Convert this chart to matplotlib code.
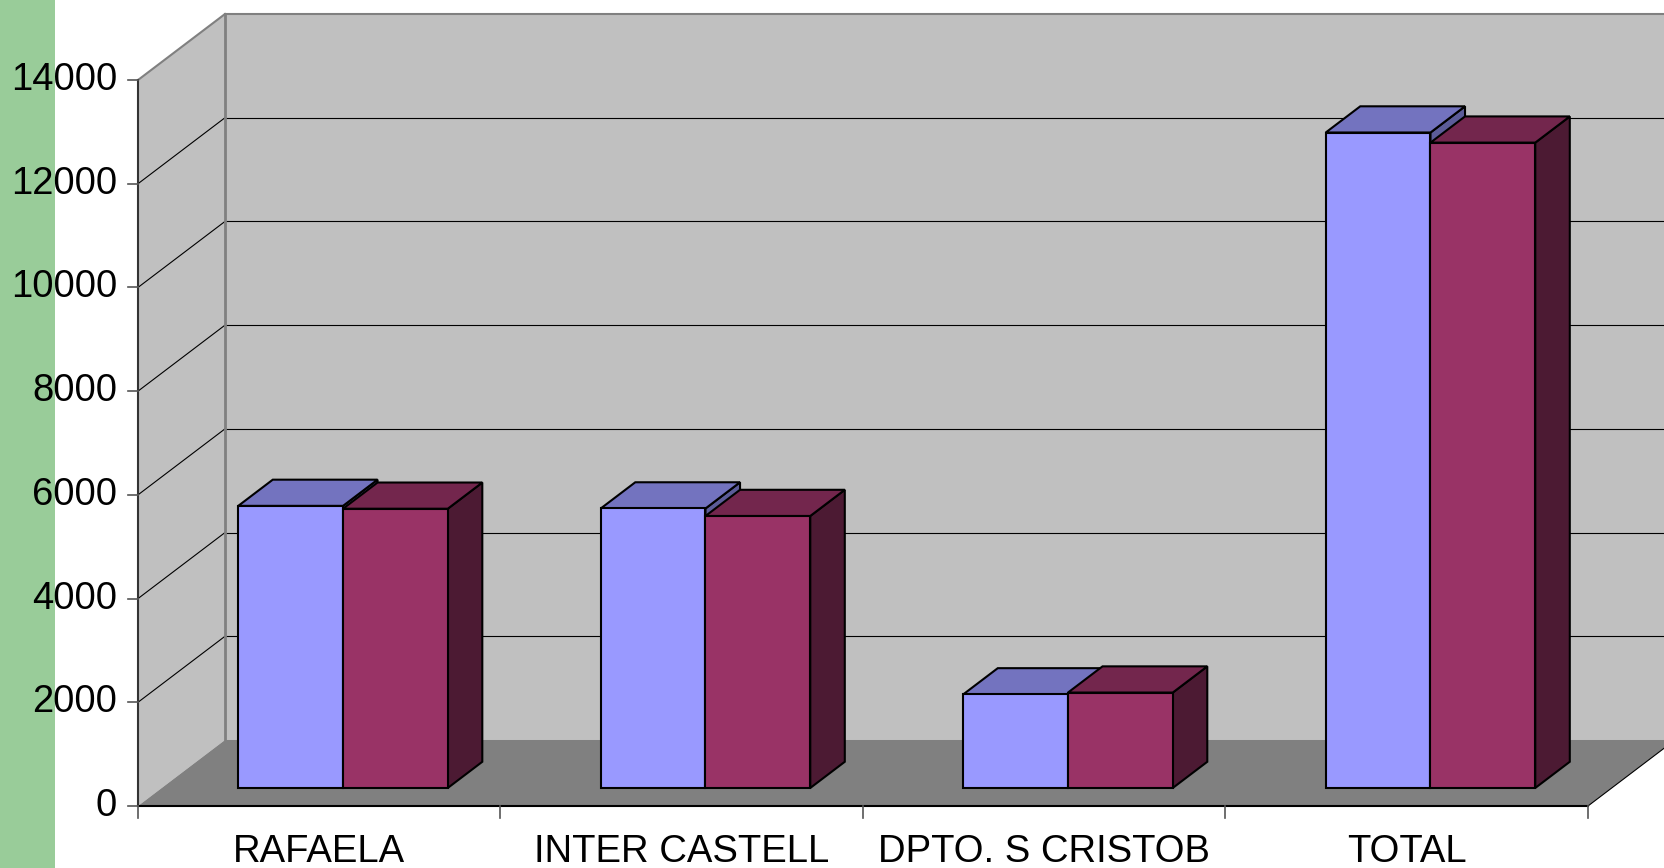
"""
3D-style clustered column chart (Excel look) rebuilt with plain matplotlib patches.
"""
import matplotlib
matplotlib.use("Agg")
import matplotlib.pyplot as plt
from matplotlib.patches import Polygon
import numpy as np

# data
categories = ['RAFAELA', 'INTER CASTELL', 'DPTO. S CRISTOB', 'TOTAL']
serie_a = [5440, 5390, 1805, 12640]
serie_b = [5385, 5245, 1840, 12445]
y_ticks = [0, 2000, 4000, 6000, 8000, 10000, 12000, 14000]

# colours
front_cols = ['#9999FF', '#993366']
top_cols = ['#7373BF', '#73264D']
side_cols = ['#5C5C99', '#4C1A33']
wall_col = '#C0C0C0'
floor_col = '#808080'
green = '#99CC99'

# depth of the 3D box, in data units (category units, value units)
DX = 0.24
DY = 1273
Z0, Z1 = 0.273, 0.67      # depth span of the columns
BW = 0.289                # column width
y_max = 14000
n = len(categories)

plt.rcParams['font.family'] = ['Liberation Sans', 'DejaVu Sans']

fig = plt.figure(figsize=(16.64, 8.68), dpi=100)
ax = fig.add_axes([0, 0, 1, 1])
ax.set_xlim(-0.8807, 3.7097)
ax.set_ylim(-1195.6, 15543)
ax.axis('off')

# green band on the left
ax.axvspan(-0.8807, -0.729, color=green, zorder=0, lw=0)

x_l, x_r = -0.5, n - 0.5
# walls and floor
ax.add_patch(Polygon([(x_l + DX, DY), (x_r + 2 * DX, DY), (x_r + 2 * DX, y_max + DY),
                      (x_l + DX, y_max + DY)], closed=True, fc=wall_col, ec='none', zorder=1))
ax.add_patch(Polygon([(x_l, 0), (x_l, y_max), (x_l + DX, y_max + DY), (x_l + DX, DY)],
                     closed=True, fc=wall_col, ec='none', zorder=1))
ax.add_patch(Polygon([(x_l, 0), (x_r, 0), (x_r + DX, DY), (x_l + DX, DY)],
                     closed=True, fc=floor_col, ec='none', zorder=1))

# gridlines
for v in y_ticks[1:-1]:
    ax.plot([x_l + DX, x_r + 2 * DX], [v + DY, v + DY], color='black', lw=0.8, zorder=2)
    ax.plot([x_l, x_l + DX], [v, v + DY], color='black', lw=0.8, zorder=2)
ax.plot([x_l + DX, x_r + 2 * DX], [y_max + DY, y_max + DY], color='#808080', lw=1.5, zorder=2)
ax.plot([x_l, x_l + DX], [y_max, y_max + DY], color='#808080', lw=1.5, zorder=2)
ax.plot([x_l + DX, x_l + DX], [DY, y_max + DY], color='#808080', lw=2, zorder=2)

# axes lines and ticks
ax.plot([x_l, x_l], [0, y_max], color='#333333', lw=1.5, zorder=3)
ax.plot([x_l, x_r], [0, 0], color='black', lw=1.5, zorder=3)
ax.plot([x_r, x_r + DX], [0, DY], color='black', lw=0.8, zorder=3)
for v in y_ticks:
    ax.plot([x_l - 0.0276, x_l], [v, v], color='#555555', lw=1.2, zorder=3)
    ax.text(x_l - 0.058, v, str(v), ha='right', va='center', fontsize=27.5, zorder=5)
for b in np.arange(n + 1) - 0.5:
    ax.plot([b, b], [0, -231], color='#555555', lw=1.2, zorder=3)
for i, c in enumerate(categories):
    ax.text(i, -545, c, ha='center', va='top', fontsize=27.5, zorder=5)

# columns
z = 10
for i in range(n):
    for k, vals in enumerate([serie_a, serie_b]):
        v = vals[i]
        x0 = i - BW + k * BW + Z0 * DX
        y0 = Z0 * DY
        ddx = (Z1 - Z0) * DX
        ddy = (Z1 - Z0) * DY
        ax.bar(x0, v, width=BW, bottom=y0, align='edge', color=front_cols[k],
               edgecolor='black', lw=1.5, zorder=z + 2)
        ax.add_patch(Polygon([(x0, y0 + v), (x0 + BW, y0 + v), (x0 + BW + ddx, y0 + v + ddy),
                              (x0 + ddx, y0 + v + ddy)], closed=True, fc=top_cols[k],
                             ec='black', lw=1.5, zorder=z + 1))
        ax.add_patch(Polygon([(x0 + BW, y0), (x0 + BW + ddx, y0 + ddy),
                              (x0 + BW + ddx, y0 + v + ddy), (x0 + BW, y0 + v)], closed=True,
                             fc=side_cols[k], ec='black', lw=1.5, zorder=z))
        z += 3

fig.savefig('out.png', dpi=100)
